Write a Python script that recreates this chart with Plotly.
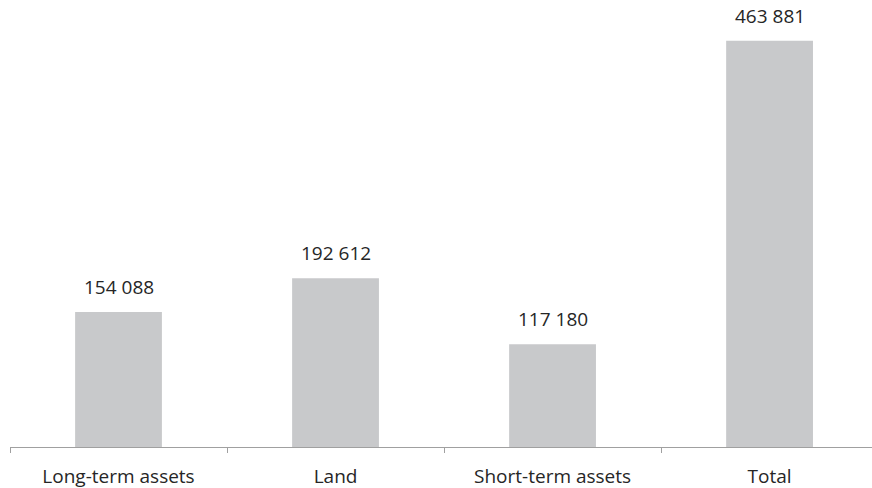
import plotly.graph_objects as go

# Asset breakdown
categories = ["Long-term assets", "Land", "Short-term assets", "Total"]
values = [154088, 192612, 117180, 463881]


def fmt(v):
    return f"{v:,}".replace(",", " ")


BAR_COLOR = "#c8c9cb"
TEXT_COLOR = "#262626"
FONT = "Open Sans"
SIZE = 19

fig = go.Figure(
    go.Bar(
        x=categories,
        y=values,
        marker=dict(color=BAR_COLOR, line=dict(width=0)),
        hoverinfo="skip",
    )
)

for cat, v in zip(categories, values):
    fig.add_annotation(
        x=cat, y=v, text=fmt(v), showarrow=False,
        yanchor="bottom", yshift=10,
        font=dict(family=FONT, size=SIZE, color=TEXT_COLOR),
    )

fig.update_layout(
    width=872, height=488,
    margin=dict(l=10, r=0, t=9, b=41),
    paper_bgcolor="white", plot_bgcolor="white",
    showlegend=False,
    bargap=0.6,
    font=dict(family=FONT, size=SIZE, color=TEXT_COLOR),
)
fig.update_xaxes(
    range=[-0.5, 3.472],
    showline=True, linecolor="#a0a0a0", linewidth=1,
    ticks="outside", tickson="boundaries", ticklen=5, tickcolor="#a0a0a0",
    ticklabelstandoff=12,
    showgrid=False,
    tickfont=dict(family=FONT, size=SIZE, color=TEXT_COLOR),
)
fig.update_yaxes(range=[0, 500000], visible=False, showgrid=False)

fig.write_html("out.html")
